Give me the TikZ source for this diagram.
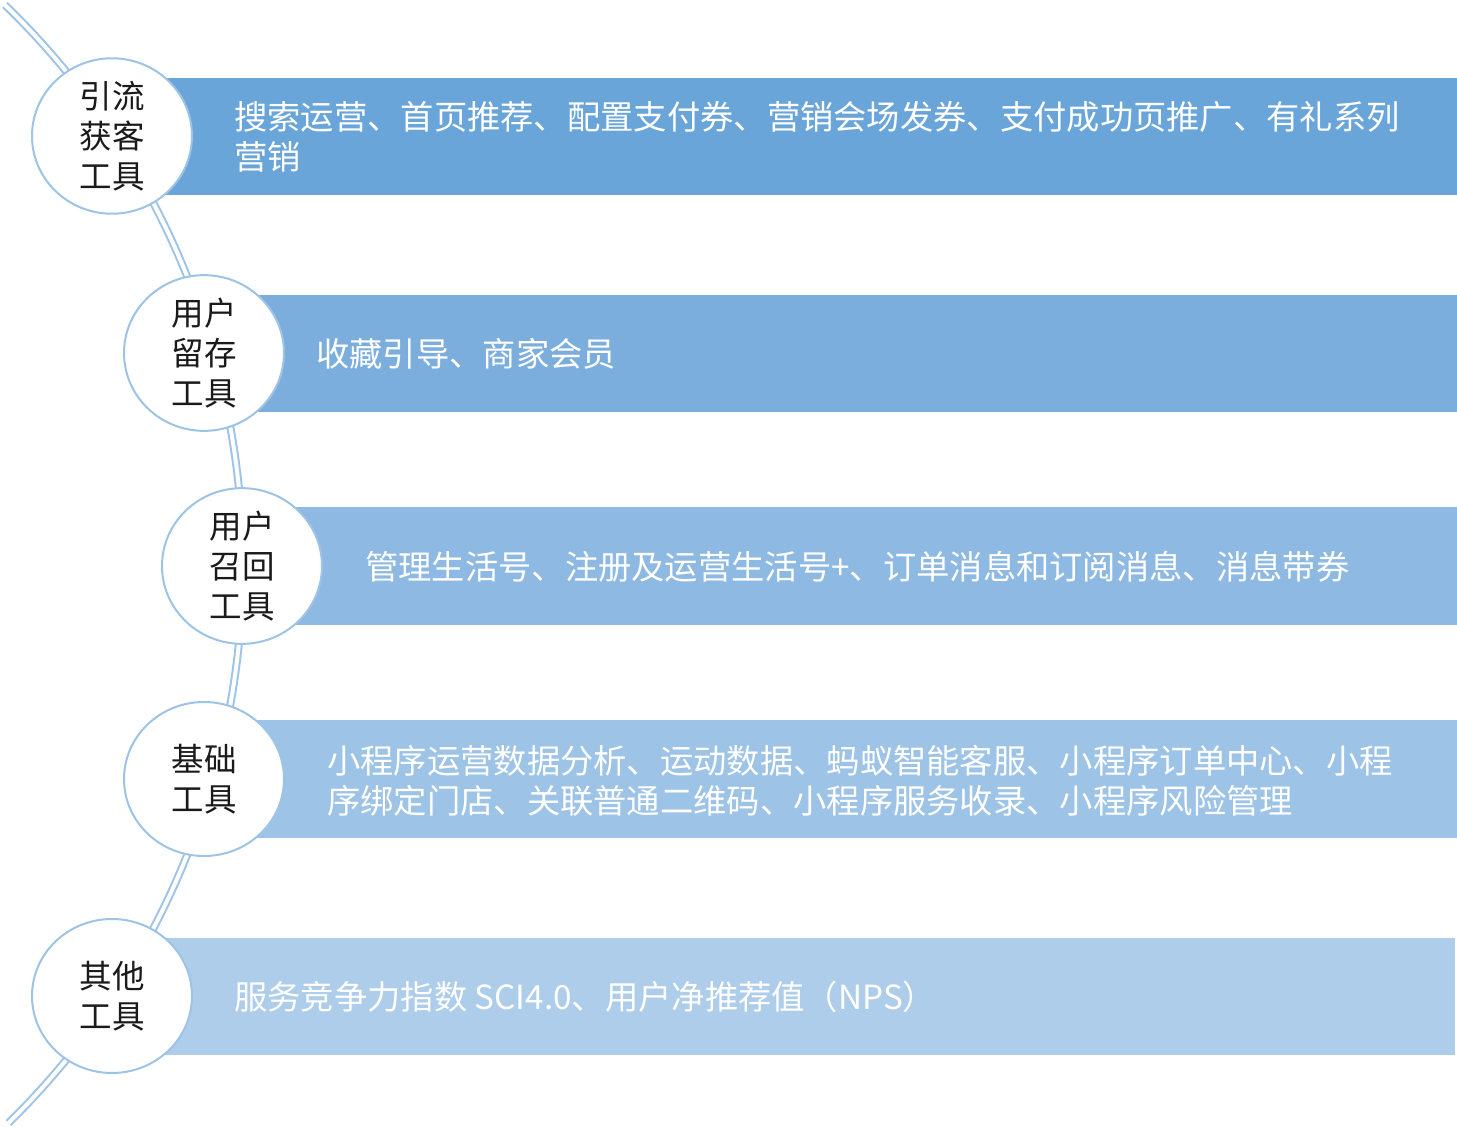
\documentclass[tikz,border=0pt]{standalone}
\usepackage{fontspec}
\setmainfont{Noto Sans CJK SC}
\newfontfamily\cjk{Noto Sans CJK SC}
\usetikzlibrary{shapes.geometric}
\definecolor{barA}{HTML}{6AA5DA}
\definecolor{barB}{HTML}{7CAEDD}
\definecolor{barC}{HTML}{8DB9E2}
\definecolor{barD}{HTML}{9DC3E6}
\definecolor{barE}{HTML}{ADCDEA}
\definecolor{ringc}{HTML}{9DC3E6}
\definecolor{inkc}{HTML}{1A1A1A}
\tikzset{
  toolbox/.style={ellipse, draw=ringc, line width=2pt, fill=white,
    minimum width=160pt, minimum height=154pt, inner sep=0pt,
    align=center, text=inkc, font=\cjk\fontsize{32.5}{40}\selectfont},
  bartext/.style={anchor=west, align=left, text=white, inner sep=0pt,
    font=\cjk\fontsize{33.3}{40}\selectfont},
  spine/.style={draw=ringc, line width=2pt, double=white, double distance=4pt}
}
\begin{document}
\begin{tikzpicture}[x=1pt,y=-1pt]
\useasboundingbox (0,0) rectangle (1457,1127);
% spine arc
\coordinate (arcstart) at (5,5);
\draw[spine] (arcstart) arc[start angle=-45.96, end angle=45.6, radius=780];
% bars
\fill[barA] (112,78) rectangle (1457,195);
\fill[barB] (204,295) rectangle (1457,412);
\fill[barC] (242,507) rectangle (1457,625);
\fill[barD] (204,720) rectangle (1457,838);
\fill[barE] (112,938) rectangle (1455,1055);
% bar texts
\node[bartext] (t1) at (234,137) {搜索运营、首页推荐、配置支付券、营销会场发券、支付成功页推广、有礼系列\\营销};
\node[bartext] (t2) at (316,354) {收藏引导、商家会员};
\node[bartext] (t3) at (365,567) {管理生活号、注册及运营生活号+、订单消息和订阅消息、消息带券};
\node[bartext] (t4) at (327,781) {小程序运营数据分析、运动数据、蚂蚁智能客服、小程序订单中心、小程\\序绑定门店、关联普通二维码、小程序服务收录、小程序风险管理};
\node[bartext] (t5) at (234,997) {服务竞争力指数 SCI4.0、用户净推荐值（NPS）};
% circles
\node[toolbox] (c1) at (112,136) {引流\\获客\\工具};
\node[toolbox] (c2) at (204,353) {用户\\留存\\工具};
\node[toolbox] (c3) at (242,566) {用户\\召回\\工具};
\node[toolbox] (c4) at (204,779) {基础\\工具};
\node[toolbox] (c5) at (112,996) {其他\\工具};
\end{tikzpicture}
\end{document}
